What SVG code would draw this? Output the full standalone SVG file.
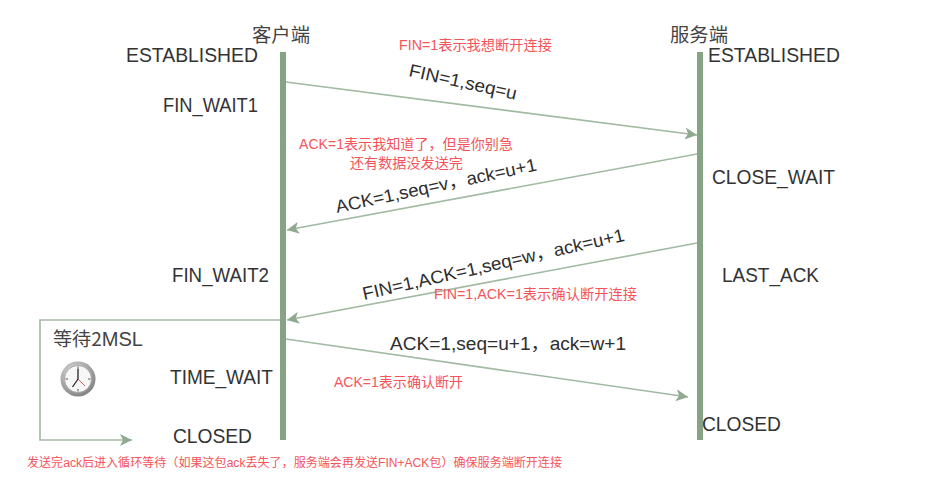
<svg xmlns="http://www.w3.org/2000/svg" width="939" height="489" viewBox="0 0 939 489">
<style>
.state{font-family:"Liberation Sans",Arial,sans-serif;font-size:19.5px;fill:#333}
.head{font-family:"Noto Sans CJK SC",sans-serif;font-size:19px;fill:#444}
.lbl{font-family:"Liberation Sans","Noto Sans CJK SC",sans-serif;font-size:18px;fill:#2e2e2e}
.note{font-family:"Liberation Sans","Noto Sans CJK SC",sans-serif;font-size:14px;fill:#f5545a}
.small{font-size:12px}
.life{stroke:#86a386;stroke-width:6;fill:none}
.msg{stroke:#a2b9a2;stroke-width:1.6;fill:none}
</style>
<defs>
<marker id="ah" viewBox="0 0 12 12" refX="12" refY="6" markerWidth="12" markerHeight="12" markerUnits="userSpaceOnUse" orient="auto">
<path d="M0,0 L12,6 L0,12 L3,6 Z" fill="#8fab8f"/>
</marker>
<radialGradient id="cg" cx="0.4" cy="0.35" r="0.7">
<stop offset="0" stop-color="#e8e8e8"/>
<stop offset="1" stop-color="#7d7d7d"/>
</radialGradient>
</defs>
<rect width="939" height="489" fill="#fff"/>

<g id="client">
<text class="head" x="252" y="42" textLength="58" lengthAdjust="spacingAndGlyphs">客户端</text>
<line class="life" x1="283" y1="52" x2="283" y2="440"/>
<text class="state" x="126" y="62" textLength="132" lengthAdjust="spacingAndGlyphs">ESTABLISHED</text>
<text class="state" x="163" y="112" textLength="95" lengthAdjust="spacingAndGlyphs">FIN_WAIT1</text>
<text class="state" x="172" y="282" textLength="97" lengthAdjust="spacingAndGlyphs">FIN_WAIT2</text>
<text class="state" x="170" y="384" textLength="103" lengthAdjust="spacingAndGlyphs">TIME_WAIT</text>
<text class="state" x="173" y="443" textLength="79" lengthAdjust="spacingAndGlyphs">CLOSED</text>
</g>

<g id="server">
<text class="head" x="670" y="42" textLength="58" lengthAdjust="spacingAndGlyphs">服务端</text>
<line class="life" x1="700" y1="52" x2="700" y2="440"/>
<text class="state" x="708" y="62" textLength="132" lengthAdjust="spacingAndGlyphs">ESTABLISHED</text>
<text class="state" x="712" y="184" textLength="123" lengthAdjust="spacingAndGlyphs">CLOSE_WAIT</text>
<text class="state" x="722" y="282" textLength="97" lengthAdjust="spacingAndGlyphs">LAST_ACK</text>
<text class="state" x="702" y="431" textLength="79" lengthAdjust="spacingAndGlyphs">CLOSED</text>
</g>

<g id="wait2msl">
<text class="head" x="53" y="346" font-size="17.5" textLength="90" lengthAdjust="spacingAndGlyphs">等待2<tspan font-family="Liberation Sans, sans-serif" font-size="20">MSL</tspan></text>
<g id="clock">
<circle cx="78" cy="379" r="17.5" fill="url(#cg)"/>
<circle cx="78" cy="379" r="13.5" fill="#f7f7f7" stroke="#9a9a9a" stroke-width="0.8"/>
<g stroke="#555" stroke-width="1">
<line x1="78" y1="366.5" x2="78" y2="369"/>
<line x1="78" y1="389" x2="78" y2="391.5"/>
<line x1="65.5" y1="379" x2="68" y2="379"/>
<line x1="88" y1="379" x2="90.5" y2="379"/>
</g>
<line x1="78" y1="379" x2="78" y2="369" stroke="#222" stroke-width="1.3"/>
<line x1="78" y1="379" x2="72.5" y2="387" stroke="#222" stroke-width="1.3"/>
<line x1="78" y1="379" x2="85" y2="386" stroke="#d33" stroke-width="0.8"/>
</g>
</g>

<g id="connectors">
<line class="msg" x1="286" y1="82" x2="697" y2="135" marker-end="url(#ah)"/>
<line class="msg" x1="697" y1="154" x2="287" y2="230" marker-end="url(#ah)"/>
<line class="msg" x1="697" y1="243" x2="287" y2="320" marker-end="url(#ah)"/>
<line class="msg" x1="286" y1="339" x2="688" y2="397" marker-end="url(#ah)"/>
<polyline class="msg" points="280,320 40,320 40,440 132,440" marker-end="url(#ah)"/>
</g>

<g id="labels">
<text class="lbl" transform="translate(408,76) rotate(12.5)" textLength="110" lengthAdjust="spacingAndGlyphs">FIN=1,seq=u</text>
<text class="lbl" transform="translate(337,213) rotate(-12)" textLength="205" lengthAdjust="spacingAndGlyphs">ACK=1,seq=v，ack=u+1</text>
<text class="lbl" transform="translate(364,300) rotate(-12.8)" textLength="268" lengthAdjust="spacingAndGlyphs">FIN=1,ACK=1,seq=w，ack=u+1</text>
<text class="lbl" x="390" y="350" textLength="236" lengthAdjust="spacingAndGlyphs">ACK=1,seq=u+1，ack=w+1</text>
</g>

<g id="notes">
<text class="note" x="399" y="50" textLength="153" lengthAdjust="spacingAndGlyphs">FIN=1表示我想断开连接</text>
<text class="note" x="299" y="149" textLength="214" lengthAdjust="spacingAndGlyphs">ACK=1表示我知道了，但是你别急</text>
<text class="note" x="350" y="168" textLength="113" lengthAdjust="spacingAndGlyphs">还有数据没发送完</text>
<text class="note" x="434" y="299" textLength="203" lengthAdjust="spacingAndGlyphs">FIN=1,ACK=1表示确认断开连接</text>
<text class="note" x="334" y="387" textLength="129" lengthAdjust="spacingAndGlyphs">ACK=1表示确认断开</text>
<text class="note small" x="27" y="467" textLength="535" lengthAdjust="spacingAndGlyphs">发送完ack后进入循环等待（如果这包ack丢失了，服务端会再发送FIN+ACK包）确保服务端断开连接</text>
</g>
</svg>
